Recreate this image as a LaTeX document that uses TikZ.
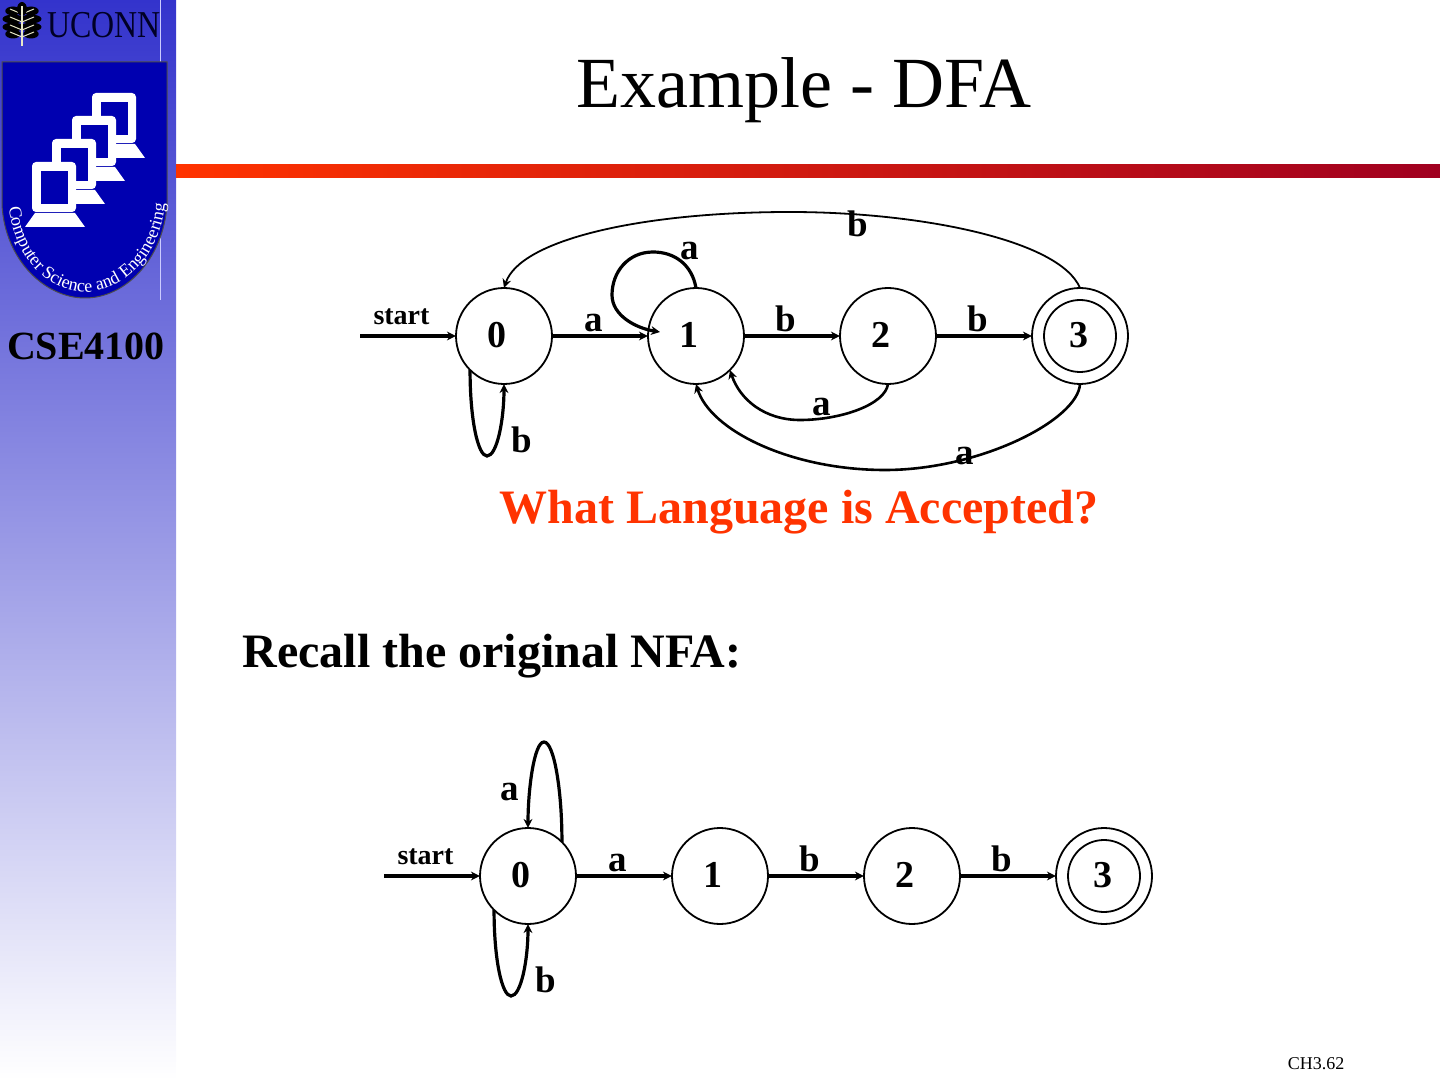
\documentclass[tikz,border=0pt]{standalone}
\usepackage{fontspec}
\setmainfont{Liberation Serif}
\usepackage{xcolor}
\usetikzlibrary{arrows.meta, positioning, decorations.text}
\definecolor{sidetop}{HTML}{3333CC}
\definecolor{shieldblue}{HTML}{0000B0}
\definecolor{barred}{HTML}{FF3300}
\definecolor{barend}{HTML}{A00020}
\definecolor{crestlight}{HTML}{E8E8C8}
\newcommand{\fsz}[1]{\fontsize{#1}{#1}\selectfont}
\newcommand{\dig}[1]{\raisebox{1.4pt}{\hspace*{-7pt}#1}}

\begin{document}
\begin{tikzpicture}[x=0.5pt, y=-0.5pt,
    st/.style={draw, circle, line width=0.9pt, minimum size=48pt, inner sep=0pt, outer sep=0pt, font=\fsz{19}\bfseries},
    acc/.style={draw, circle, line width=0.9pt, minimum size=36pt, inner sep=0pt, outer sep=0pt, font=\fsz{19}\bfseries},
    lab/.style={font=\fsz{18.5}\bfseries, inner sep=2pt, outer sep=0pt},
    startlab/.style={font=\fsz{14}\bfseries, inner sep=0pt, outer sep=0pt},
    arr/.style={-{Stealth[length=4.5pt, width=4.4pt]}, line width=1.6pt},
    loopy/.style={-{Stealth[length=4.5pt, width=4.4pt]}, line width=1.6pt},
    back/.style={-{Stealth[length=4.5pt, width=4.4pt]}, line width=1.3pt},
    thin back/.style={-{Stealth[length=4.5pt, width=4.4pt]}, line width=0.9pt}]
  \useasboundingbox (0,0) rectangle (1440,1080);
  \shade[top color=sidetop, bottom color=white] (0,0) rectangle (176,1080);
  \shade[left color=barred, right color=barend] (176,165) rectangle (1440,178);
  \draw[line width=0.5pt, color=blue!20!white] (160,0) -- (160,300);
  \filldraw[fill=shieldblue, draw=black!70, line width=0.5pt] (2,62) -- (167,62) -- (167,205)
    .. controls (163,260) and (125,298) .. (85,298)
    .. controls (45,298) and (5,260) .. (2,205) -- cycle;
  \foreach \dx/\dy in {60/-69,40/-46,20/-23,0/0} {
    \begin{scope}[shift={(\dx,\dy)}]
      \fill[white] (35,213) -- (75,213) -- (85,227) -- (25,227) -- cycle;
      \fill[white, rounded corners=2pt] (32,162) rectangle (76,212);
      \fill[shieldblue] (41,171) rectangle (68,204);
    \end{scope}
  }
  \path[decorate, decoration={text along path, text align={fit to path},
      text={|\fsz{9}\color{white}|Computer Science and Engineering}}]
    (9,207) .. controls (14,258) and (48,292) .. (85,292) .. controls (122,292) and (160,258) .. (165,204);
  \foreach \yy/\ww in {14/11,22/15,30/15,37/11} {
    \fill[black] (22,\yy) ++(-9,-3) ellipse ({\ww*0.7} and 4.5);
    \fill[black] (22,\yy) ++(9,-3) ellipse ({\ww*0.7} and 4.5);
    \draw[color=crestlight, line width=0.5pt] (22,\yy) -- ++(-12,-5);
    \draw[color=crestlight, line width=0.5pt] (22,\yy) -- ++(12,-5);
  }
  \fill[black] (22,9) ellipse (5 and 7);
  \draw[color=crestlight, line width=0.7pt] (22,46) -- (22,6);
  \node[font=\fsz{19}, xscale=0.84, color=black!85!blue, inner sep=0pt] (uconn) at (104,25) {UCONN};
  \node[font=\fsz{20}\bfseries, inner sep=0pt] (course) at (86,346) {CSE4100};
  \node[font=\fsz{36}, inner sep=0pt] (title) at (804,90) {Example - DFA};
  \node[st] (q0) at (504,336) {\dig{0}};
  \node[st, right=48pt of q0] (q1) {\dig{1}};
  \node[st, right=48pt of q1] (q2) {\dig{2}};
  \node[st, right=48pt of q2] (q3) {};
  \node[acc] (q3in) at (q3) {\raisebox{1.4pt}{\hspace*{-1pt}3}};
  \coordinate[left=48pt of q0] (start0);
  \draw[arr] (start0) -- node[startlab, above=5.5pt, xshift=-3.25pt] (lstart0) {start} (q0);
  \node[st] (p0) at (528,876) {\dig{0}};
  \node[st, right=48pt of p0] (p1) {\dig{1}};
  \node[st, right=48pt of p1] (p2) {\dig{2}};
  \node[st, right=48pt of p2] (p3) {};
  \node[acc] (p3in) at (p3) {\raisebox{1.4pt}{\hspace*{-1pt}3}};
  \coordinate[left=48pt of p0] (start1);
  \draw[arr] (start1) -- node[startlab, above=5.5pt, xshift=-3.25pt] (lstart1) {start} (p0);
  \foreach \a/\b/\t in {q0/q1/a,q1/q2/b,q2/q3/b,p0/p1/a,p1/p2/b,p2/p3/b}
    \draw[arr] (\a) -- node[lab, above, xshift=-3.25pt] (l\a) {\t} (\b);
  \coordinate (toptop) at (790,212);
  \draw[thin back] (q3.north) .. controls (1060,240) and (920,212) .. (toptop)
    .. controls (640,212) and (520,240) .. (q0.north);
  \coordinate (looptop) at (653,252);
  \coordinate (loopleft) at (612,295);
  \coordinate (loopend) at (660,332);
  \draw[loopy] (q1.north) .. controls (692,265) and (675,252) .. (looptop)
    .. controls (628,252) and (612,272) .. (loopleft)
    .. controls (612,315) and (635,328) .. (loopend);
  \coordinate (low0) at (487,456);
  \draw[loopy] (q0.225) .. controls (470,420) and (478,456) .. (low0)
    .. controls (497,456) and (504,420) .. (q0.south);
  \coordinate (low21) at (800,420);
  \draw[back] (q2.south) .. controls (885,405) and (840,420) .. (low21)
    .. controls (765,420) and (740,400) .. (q1.-45);
  \coordinate (low31) at (885,470);
  \draw[back] (q3.south) .. controls (1078,420) and (980,470) .. (low31)
    .. controls (790,470) and (710,430) .. (q1.south);
  \coordinate (high0) at (544,742);
  \draw[loopy] (p0.45) .. controls (562,790) and (554,742) .. (high0)
    .. controls (534,742) and (528,790) .. (p0.north);
  \coordinate (low1) at (511,996);
  \draw[loopy] (p0.225) .. controls (494,960) and (502,996) .. (low1)
    .. controls (521,996) and (528,960) .. (p0.south);
  \node[lab] (lb30) at (858,224) {b};
  \node[lab] (la11) at (690,251) {a};
  \node[lab] (lb00) at (522,440) {b};
  \node[lab] (la21) at (822,407) {a};
  \node[lab] (la31) at (965,456) {a};
  \node[lab] (lap) at (510,792) {a};
  \node[lab] (lbp) at (546,980) {b};
  \node[font=\fsz{24}\bfseries, color=barred, inner sep=0pt] (ask) at (799,512) {What Language is Accepted?};
  \node[font=\fsz{24}\bfseries, inner sep=0pt, anchor=west] (recall) at (242,656) {Recall the original NFA:};
  \node[font=\fsz{9}, inner sep=0pt] (pageno) at (1316,1064) {CH3.62};
\end{tikzpicture}
\end{document}
